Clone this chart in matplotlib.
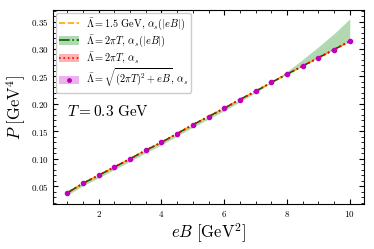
import matplotlib
matplotlib.use("Agg")
import matplotlib.pyplot as plt
import numpy as np
from matplotlib.patches import Patch
from matplotlib.lines import Line2D
from matplotlib.ticker import MultipleLocator

plt.rcParams['font.family'] = 'serif'
plt.rcParams['font.serif'] = ['cmr10', 'DejaVu Serif']
plt.rcParams['mathtext.fontset'] = 'cm'
plt.rcParams['axes.formatter.use_mathtext'] = True

eB = [1.0, 1.5, 2.0, 2.5, 3.0, 3.5, 4.0, 4.5, 5.0, 5.5, 6.0, 6.5, 7.0, 7.5, 8.0, 8.5, 9.0, 9.5, 10.0]
P = [0.038, 0.0554, 0.070, 0.085, 0.100, 0.1155, 0.130, 0.146, 0.162, 0.177, 0.192,
     0.208, 0.223, 0.239, 0.254, 0.269, 0.284, 0.299, 0.314]
green_lo = [0.034, 0.0510, 0.0655, 0.0805, 0.0955, 0.1110, 0.1255, 0.1415, 0.1575, 0.1725,
            0.1875, 0.2040, 0.2205, 0.2385, 0.254, 0.269, 0.284, 0.299, 0.314]
green_hi = [0.038, 0.0554, 0.070, 0.085, 0.100, 0.1155, 0.130, 0.146, 0.162, 0.177, 0.192,
            0.208, 0.2235, 0.241, 0.259, 0.281, 0.304, 0.328, 0.355]

labels = [r'$\bar{\Lambda}=1.5\ \mathrm{GeV},\,\alpha_s(|eB|)$',
          r'$\bar{\Lambda}=2\pi T,\,\alpha_s(|eB|)$',
          r'$\bar{\Lambda}=2\pi T,\,\alpha_s$',
          r'$\bar{\Lambda}=\sqrt{(2\pi T)^2+eB},\,\alpha_s$']

fig = plt.figure(figsize=(3.74, 2.49), dpi=100)
ax = fig.add_axes([0.142, 0.181, 0.831, 0.779])

ax.fill_between(eB, green_lo, green_hi, color='green', alpha=0.3, lw=0)
ax.plot(eB, P, color='orange', ls='--', lw=1.2)
ax.plot(eB, P, color='darkgreen', ls='-.', lw=1.2)
ax.plot(eB, P, color='red', ls=':', lw=1.2)
ax.plot(eB, P, color='m', ls='none', marker='o', ms=3)

h1 = Line2D([], [], color='orange', ls='--', lw=1.2)
h2 = (Patch(facecolor='green', alpha=0.3, lw=0), Line2D([], [], color='darkgreen', ls='-.', lw=1.2))
h3 = (Patch(facecolor='red', alpha=0.3, lw=0), Line2D([], [], color='red', ls=':', lw=1.2))
h4 = (Patch(facecolor='m', alpha=0.3, lw=0), Line2D([], [], color='m', ls='none', marker='o', ms=2.5))
ax.legend([h1, h2, h3, h4], labels, loc='upper left', fontsize=7.4, handlelength=1.9,
          handleheight=0.9, handletextpad=0.7, borderpad=0.3, labelspacing=0.12,
          framealpha=1, edgecolor='0.8', borderaxespad=0.3)

ax.text(0.045, 0.455, r'$T=0.3\ \mathrm{GeV}$', transform=ax.transAxes, fontsize=11)

ax.set_xlabel(r'$eB\ [\mathrm{GeV}^2]$', fontsize=12, labelpad=2)
ax.set_ylabel(r'$P\ [\mathrm{GeV}^4]$', fontsize=12, labelpad=2)

ax.xaxis.set_major_locator(MultipleLocator(2))
ax.xaxis.set_minor_locator(MultipleLocator(0.5))
ax.yaxis.set_major_locator(MultipleLocator(0.05))
ax.yaxis.set_minor_locator(MultipleLocator(0.01))
ax.tick_params(which='both', direction='in', top=True, right=True, labelsize=6.5)
ax.tick_params(which='major', length=3.5)
ax.tick_params(which='minor', length=2)

fig.savefig('out.png', dpi=100)
